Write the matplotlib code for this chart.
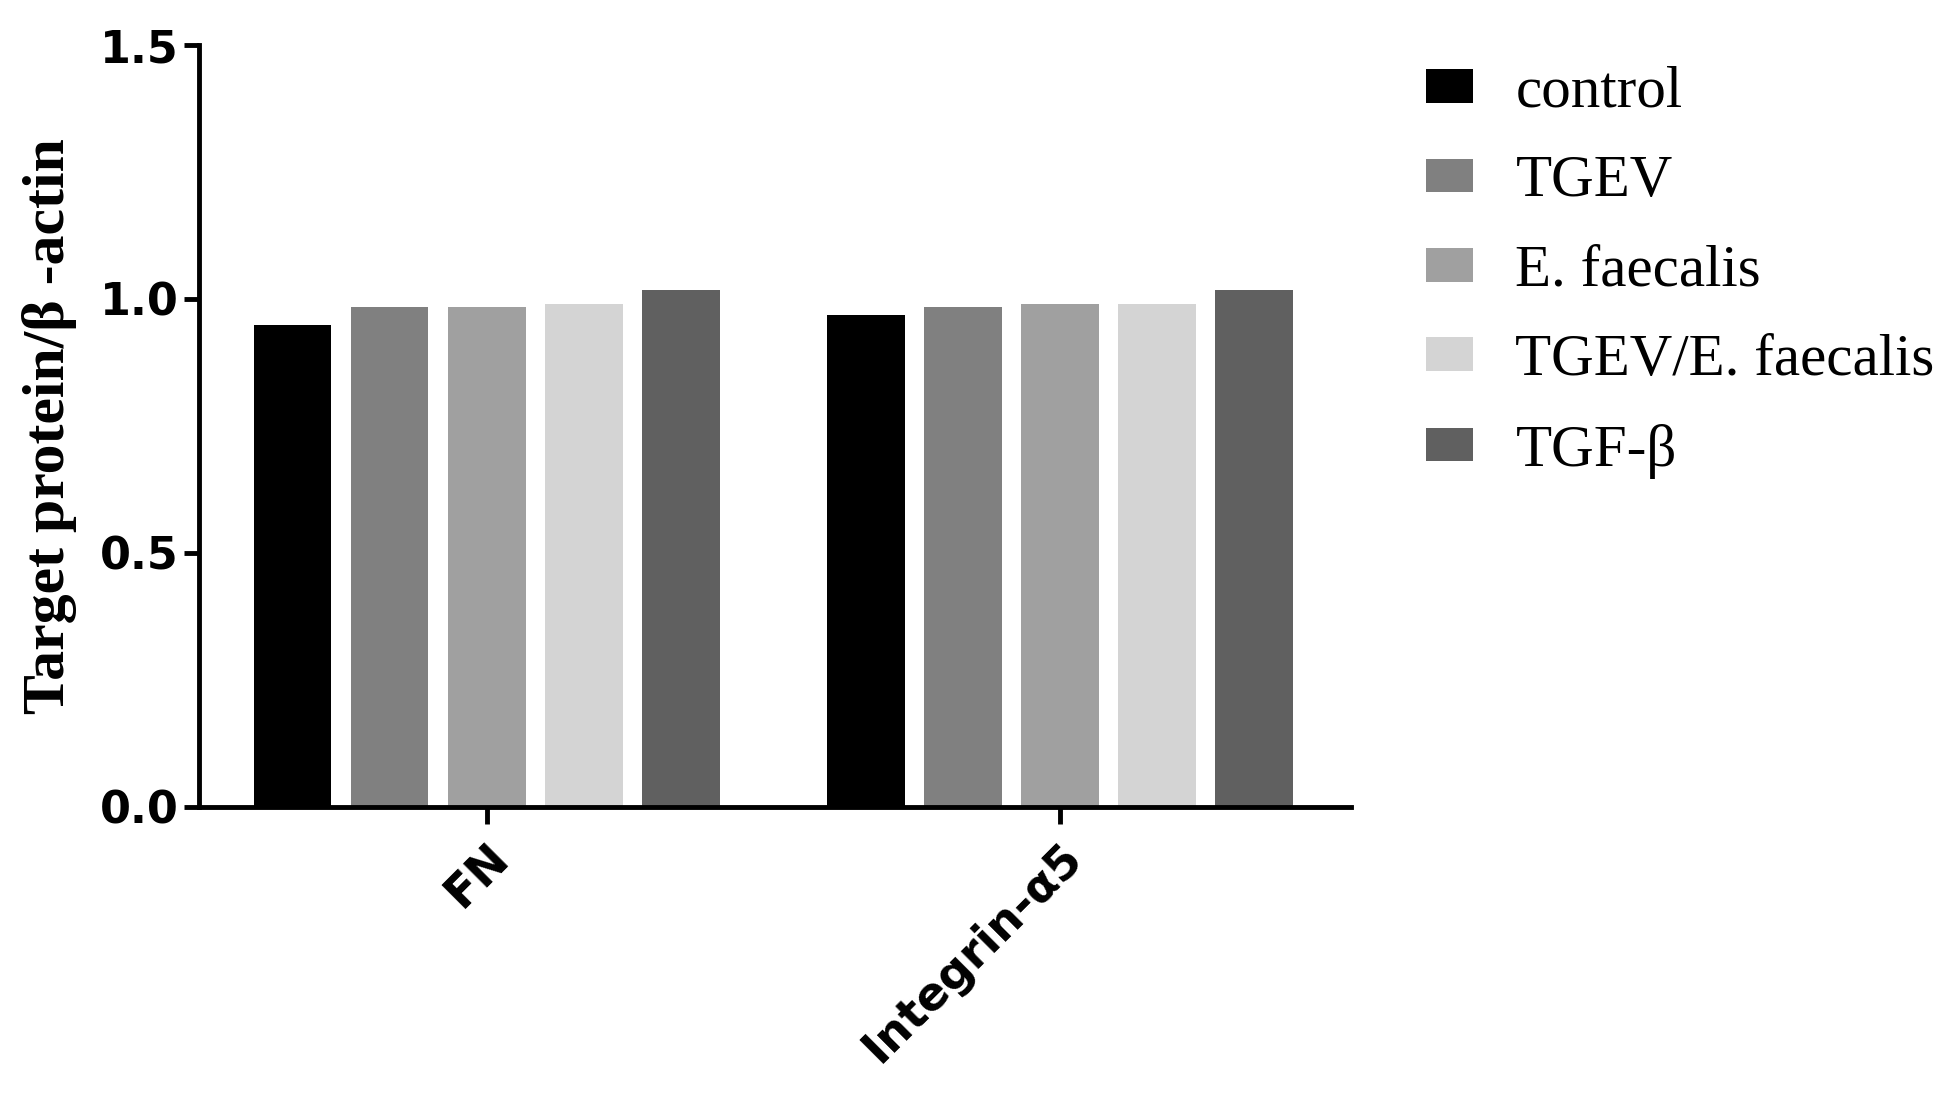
import numpy as np
import matplotlib
matplotlib.use("Agg")
import matplotlib.pyplot as plt

# data
genes = ["FN", "Integrin-α5"]
groups = ["control", "TGEV", "E. faecalis", "TGEV/E. faecalis", "TGF-β"]
values = {
    "control": [0.948, 0.968],
    "TGEV": [0.985, 0.985],
    "E. faecalis": [0.985, 0.99],
    "TGEV/E. faecalis": [0.99, 0.99],
    "TGF-β": [1.017, 1.017],
}
colors = ["#000000", "#808080", "#a0a0a0", "#d4d4d4", "#606060"]

fig = plt.figure(figsize=(19.53, 10.99), dpi=100)
ax = fig.add_axes([0.102, 0.266, 0.590, 0.693])

centers = np.array([0.0, 5.9])
width = 0.8
for i, g in enumerate(groups):
    ax.bar(centers + (i - 2), values[g], width=width, color=colors[i], label=g)

ax.set_xlim(-2.96, 8.9)
ax.set_ylim(0, 1.5)
ax.set_yticks([0.0, 0.5, 1.0, 1.5])
ax.set_yticklabels(["0.0", "0.5", "1.0", "1.5"], fontsize=32, fontweight="bold",
                   family="DejaVu Sans")
ax.set_xticks(centers)
ax.set_xticklabels(genes, rotation=45, ha="right", rotation_mode="anchor",
                   fontsize=33, fontweight="bold", family="DejaVu Sans")

for s in ["top", "right"]:
    ax.spines[s].set_visible(False)
for s in ["left", "bottom"]:
    ax.spines[s].set_linewidth(3.5)
ax.tick_params(axis="y", length=11, width=3.5, pad=4)
ax.tick_params(axis="x", length=12, width=3.5, pad=8)

ax.set_ylabel("Target protein/β -actin", fontsize=43, fontweight="bold",
              family="Liberation Serif", labelpad=16)

ax.legend(loc="upper left", bbox_to_anchor=(0.73, 0.94), bbox_transform=fig.transFigure,
          frameon=False, prop={"family": "Liberation Serif", "size": 42.5},
          handlelength=0.8, handleheight=0.5, handletextpad=0.72,
          labelspacing=0.6, borderpad=0, borderaxespad=0)

fig.savefig("out.png", dpi=100)
